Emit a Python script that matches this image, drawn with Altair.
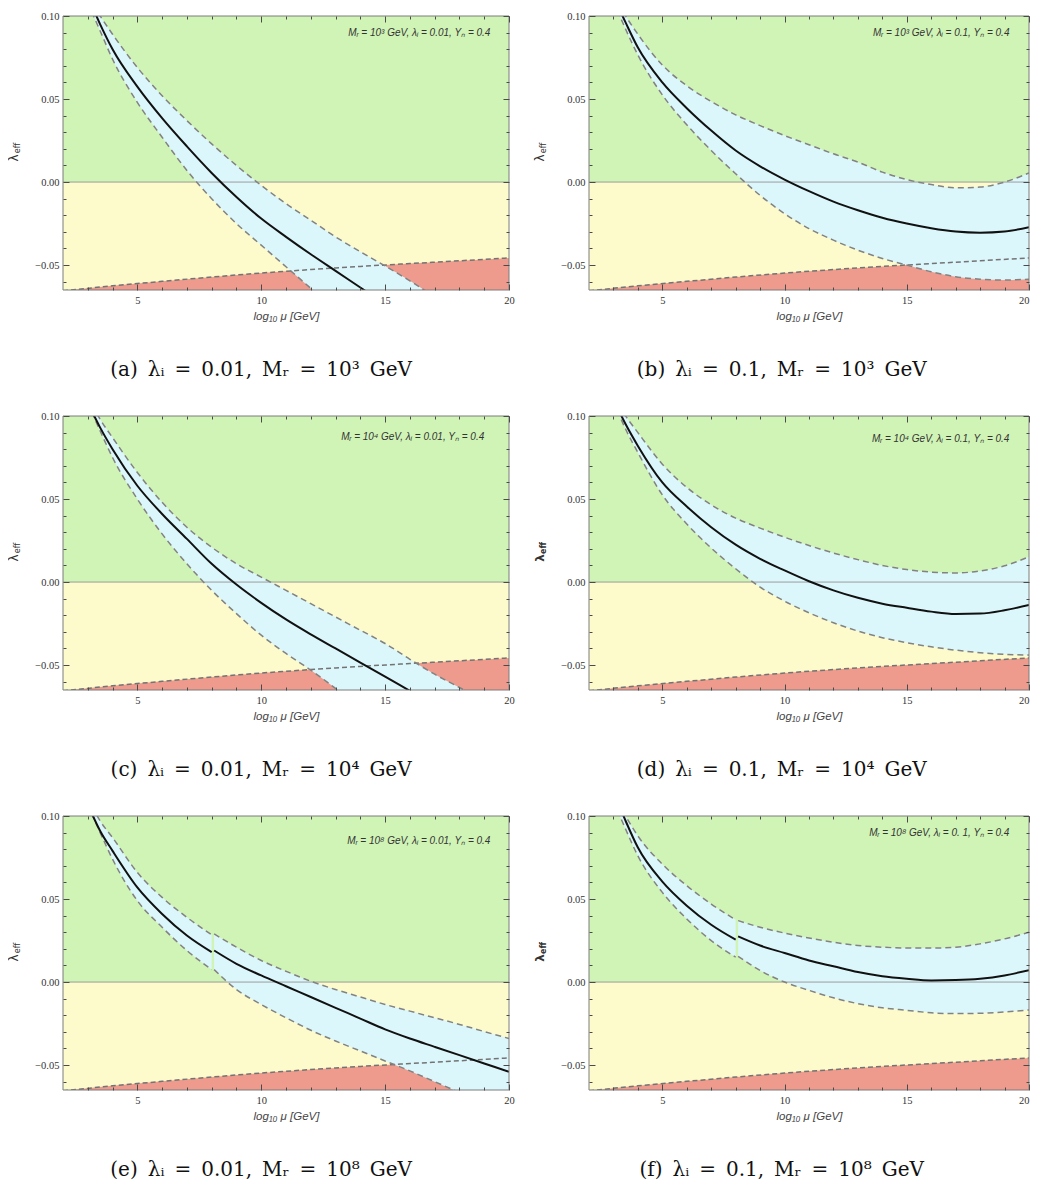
import altair as alt
import pandas as pd

# ---------------- data ----------------
X_DOMAIN = [2, 20]
Y_DOMAIN = [-0.065, 0.10]

STABLE_Y = [0.0, 0.10]      # green: absolutely stable
META_Y = [-0.065, 0.0]      # yellow: metastable

# instability boundary (red region below)
INSTAB_X = [2, 4, 6, 8, 10, 12, 14, 16, 18, 20]
INSTAB_Y = [-0.0655, -0.0625, -0.0598, -0.0572, -0.0548, -0.0527, -0.0508, -0.0491, -0.0474, -0.0457]

# x grid of the curves (continuous panels)
XB = [3.0, 3.5, 4, 5, 6, 7, 8, 9, 10, 11, 12, 13, 14, 15, 16, 17, 18, 19, 20]
SEG_B = [0] * 19
# x grid with the threshold break at log10(M_R) = 8
XBB = [3.0, 3.5, 4, 5, 6, 7, 8, 8.1, 9, 10, 11, 12, 13, 14, 15, 16, 17, 18, 19, 20]
SEG_BB = [0] * 7 + [1] * 13

# (a) lambda_i = 0.01, M_R = 1e3
A_MID = [0.112, 0.095, 0.080, 0.0575, 0.0385, 0.0215, 0.0055, -0.009, -0.022, -0.033, -0.0435, -0.0535, -0.0635, -0.0735, -0.0835, -0.0935, -0.1035, -0.1135, -0.1235]
A_HI = [0.112, 0.100, 0.089, 0.069, 0.052, 0.037, 0.023, 0.010, -0.002, -0.013, -0.023, -0.033, -0.042, -0.0505, -0.0595, -0.069, -0.078, -0.087, -0.096]
A_LO = [0.108, 0.091, 0.074, 0.048, 0.027, 0.007, -0.010, -0.025, -0.038, -0.051, -0.064, -0.077, -0.090, -0.103, -0.116, -0.129, -0.142, -0.155, -0.168]

# (b) lambda_i = 0.1, M_R = 1e3
B_MID = [0.112, 0.096, 0.081, 0.060, 0.0445, 0.031, 0.019, 0.0095, 0.0015, -0.0055, -0.0118, -0.017, -0.0215, -0.025, -0.0278, -0.0298, -0.0305, -0.0298, -0.0272]
B_HI = [0.113, 0.100, 0.089, 0.0705, 0.058, 0.0485, 0.0405, 0.034, 0.028, 0.0225, 0.017, 0.012, 0.006, 0.0015, -0.0015, -0.0035, -0.003, 0.0, 0.0055]
B_LO = [0.109, 0.092, 0.0765, 0.0525, 0.0345, 0.019, 0.005, -0.008, -0.019, -0.028, -0.035, -0.041, -0.046, -0.050, -0.054, -0.057, -0.0585, -0.059, -0.0585]

# (c) lambda_i = 0.01, M_R = 1e4
C_MID = [0.108, 0.093, 0.080, 0.058, 0.041, 0.026, 0.011, -0.0015, -0.0125, -0.0225, -0.0315, -0.040, -0.0485, -0.057, -0.0655, -0.074, -0.0825, -0.091, -0.0995]
C_HI = [0.112, 0.098, 0.087, 0.066, 0.048, 0.033, 0.021, 0.011, 0.003, -0.005, -0.013, -0.021, -0.029, -0.037, -0.0465, -0.0555, -0.0635, -0.072, -0.081]
C_LO = [0.108, 0.091, 0.075, 0.050, 0.029, 0.011, -0.005, -0.019, -0.032, -0.043, -0.053, -0.064, -0.075, -0.086, -0.097, -0.108, -0.119, -0.130, -0.141]

# (d) lambda_i = 0.1, M_R = 1e4
D_MID = [0.110, 0.095, 0.082, 0.060, 0.0455, 0.033, 0.0225, 0.014, 0.007, 0.0005, -0.005, -0.0095, -0.013, -0.0155, -0.0178, -0.0192, -0.019, -0.017, -0.0138]
D_HI = [0.112, 0.100, 0.090, 0.071, 0.057, 0.0465, 0.0385, 0.0325, 0.027, 0.022, 0.0175, 0.0135, 0.010, 0.0075, 0.006, 0.0055, 0.0067, 0.0098, 0.0152]
D_LO = [0.109, 0.092, 0.078, 0.0525, 0.035, 0.0205, 0.008, -0.003, -0.0115, -0.0185, -0.0245, -0.0295, -0.0335, -0.0365, -0.039, -0.041, -0.0425, -0.0435, -0.044]

# (e) lambda_i = 0.01, M_R = 1e8
E_MID = [0.107, 0.091, 0.079, 0.057, 0.041, 0.028, 0.018, 0.019, 0.011, 0.004, -0.0025, -0.009, -0.0155, -0.022, -0.0285, -0.034, -0.039, -0.044, -0.049, -0.054]
E_HI = [0.111, 0.097, 0.087, 0.066, 0.051, 0.039, 0.0285, 0.029, 0.021, 0.013, 0.0065, 0.0005, -0.0045, -0.009, -0.0135, -0.0175, -0.0215, -0.0255, -0.0298, -0.034]
E_LO = [0.107, 0.090, 0.074, 0.049, 0.033, 0.019, 0.0075, 0.0075, -0.0045, -0.0135, -0.0215, -0.029, -0.0355, -0.0415, -0.0475, -0.0535, -0.060, -0.0665, -0.073, -0.0795]

# (f) lambda_i = 0.1, M_R = 1e8
F_MID = [0.115, 0.097, 0.081, 0.0605, 0.046, 0.0345, 0.0255, 0.0275, 0.022, 0.0175, 0.013, 0.0095, 0.006, 0.0035, 0.002, 0.001, 0.0012, 0.002, 0.004, 0.0072]
F_HI = [0.114, 0.100, 0.088, 0.071, 0.058, 0.047, 0.0375, 0.037, 0.033, 0.0295, 0.0265, 0.024, 0.022, 0.021, 0.0205, 0.0205, 0.021, 0.023, 0.026, 0.030]
F_LO = [0.109, 0.092, 0.076, 0.054, 0.038, 0.025, 0.015, 0.0155, 0.007, 0.0, -0.005, -0.0095, -0.013, -0.0155, -0.017, -0.0185, -0.019, -0.0188, -0.018, -0.0168]

E2 = "\u2002"
CAPTIONS = [
    f"(a){E2}λᵢ{E2}={E2}0.01,{E2}Mᵣ{E2}={E2}10³{E2}GeV",
    f"(b){E2}λᵢ{E2}={E2}0.1,{E2}Mᵣ{E2}={E2}10³{E2}GeV",
    f"(c){E2}λᵢ{E2}={E2}0.01,{E2}Mᵣ{E2}={E2}10⁴{E2}GeV",
    f"(d){E2}λᵢ{E2}={E2}0.1,{E2}Mᵣ{E2}={E2}10⁴{E2}GeV",
    f"(e){E2}λᵢ{E2}={E2}0.01,{E2}Mᵣ{E2}={E2}10⁸{E2}GeV",
    f"(f){E2}λᵢ{E2}={E2}0.1,{E2}Mᵣ{E2}={E2}10⁸{E2}GeV",
]
NOTES = [
    "Mᵣ = 10³ GeV,  λᵢ = 0.01,  Yₙ = 0.4",
    "Mᵣ = 10³ GeV,  λᵢ = 0.1,  Yₙ = 0.4",
    "Mᵣ = 10⁴ GeV,  λᵢ = 0.01,  Yₙ = 0.4",
    "Mᵣ = 10⁴ GeV,  λᵢ = 0.1,  Yₙ = 0.4",
    "Mᵣ = 10⁸ GeV,  λᵢ = 0.01,  Yₙ = 0.4",
    "Mᵣ = 10⁸ GeV,  λᵢ = 0. 1,  Yₙ = 0.4",
]
NOTE_X = [19.25, 19.2, 19.0, 19.2, 19.25, 19.2]
NOTE_Y = [0.0895, 0.0895, 0.0875, 0.086, 0.085, 0.090]

X_MAJOR = [5, 10, 15, 20]
X_MINOR = [3, 4, 6, 7, 8, 9, 11, 12, 13, 14, 16, 17, 18, 19]
Y_MAJOR = [-0.05, 0.0, 0.05, 0.10]
Y_MINOR = [-0.06, -0.04, -0.03, -0.02, -0.01, 0.01, 0.02, 0.03, 0.04, 0.06, 0.07, 0.08, 0.09]

# ---------------- style ----------------
GREEN = "#d0f3b6"
YELLOW = "#fdfbcb"
RED = "#ee9b8d"
BLUE = "#dcf7fb"
DASH_COLOR = "#828282"
TICK_COLOR = "#4a4a4a"
CURVE = "monotone"


def xscale():
    return alt.Scale(domain=X_DOMAIN, nice=False, zero=False)


def yscale():
    return alt.Scale(domain=Y_DOMAIN, nice=False, zero=False)


def axis(orient, values, size, labels=False, fmt=None, title=None, flush=False):
    kw = dict(orient=orient, values=values, tickSize=size, offset=-size, labels=labels,
              domain=False, grid=False, ticks=True, tickColor=TICK_COLOR, tickWidth=1,
              zindex=2, title=title)
    if labels:
        kw.update(format=fmt, labelFont="Liberation Serif", labelFontSize=10.5,
                  labelColor="#333333", labelFlush=flush,
                  labelPadding=4 if orient == "left" else 5)
    if title:
        kw.update(titleFont="Liberation Sans", titleFontStyle="italic", titleFontSize=11.5,
                  titleFontWeight="normal", titleColor="#444444", titlePadding=5)
    return alt.Axis(**kw)


def panel(i, xs, seg, mid, hi, lo, w, h, bold=False, flush=False):
    band = pd.DataFrame({"x": xs, "seg": seg, "mid": mid, "hi": hi, "lo": lo})
    edges = pd.concat([
        pd.DataFrame({"x": xs, "v": hi, "key": [f"hi{s}" for s in seg]}),
        pd.DataFrame({"x": xs, "v": lo, "key": [f"lo{s}" for s in seg]}),
    ])
    stable = pd.DataFrame({"x0": [X_DOMAIN[0]], "x1": [X_DOMAIN[1]], "y0": [STABLE_Y[0]], "y1": [STABLE_Y[1]]})
    meta = pd.DataFrame({"x0": [X_DOMAIN[0]], "x1": [X_DOMAIN[1]], "y0": [META_Y[0]], "y1": [META_Y[1]]})
    inst = pd.DataFrame({"x": INSTAB_X, "y": INSTAB_Y, "floor": [Y_DOMAIN[0]] * len(INSTAB_X)})
    frame = pd.DataFrame({"x0": [X_DOMAIN[0]], "x1": [X_DOMAIN[1]], "y0": [Y_DOMAIN[0]], "y1": [Y_DOMAIN[1]]})

    g = alt.Chart(stable).mark_rect(color=GREEN).encode(
        x=alt.X("x0:Q", scale=xscale(),
                axis=axis("bottom", X_MAJOR, 6, True, "d", "log₁₀ μ  [GeV]", flush=flush)),
        x2="x1",
        y=alt.Y("y0:Q", scale=yscale(), axis=axis("left", Y_MAJOR, 6, True, ".2f")),
        y2="y1")
    yel = alt.Chart(meta).mark_rect(color=YELLOW).encode(
        x=alt.X("x0:Q", scale=xscale(), axis=axis("bottom", X_MINOR, 3)),
        x2="x1",
        y=alt.Y("y0:Q", scale=yscale(), axis=axis("left", Y_MINOR, 3)),
        y2="y1")
    red = alt.Chart(inst).mark_area(color=RED, clip=True, interpolate=CURVE).encode(
        x=alt.X("x:Q", scale=xscale(), axis=axis("top", X_MAJOR, 6)),
        y=alt.Y("y:Q", scale=yscale(), axis=axis("right", Y_MAJOR, 6)),
        y2="floor")
    blue = alt.Chart(band).mark_area(color=BLUE, clip=True, interpolate=CURVE).encode(
        x=alt.X("x:Q", scale=xscale(), axis=axis("top", X_MINOR, 3)),
        y=alt.Y("lo:Q", scale=yscale(), axis=axis("right", Y_MINOR, 3)),
        y2="hi",
        detail="seg:N")
    zero = alt.Chart(pd.DataFrame({"y": [0.0]})).mark_rule(color="#9c9c9c", strokeWidth=1).encode(
        y=alt.Y("y:Q", scale=yscale(), axis=None))
    inst_line = alt.Chart(inst).mark_line(color="#737373", strokeDash=[5, 3], strokeWidth=1.5,
                                          clip=True, interpolate=CURVE).encode(
        x=alt.X("x:Q", scale=xscale(), axis=None),
        y=alt.Y("y:Q", scale=yscale(), axis=None))
    edge_lines = alt.Chart(edges).mark_line(color=DASH_COLOR, strokeDash=[6, 4], strokeWidth=1.5,
                                            clip=True, interpolate=CURVE).encode(
        x=alt.X("x:Q", scale=xscale(), axis=None),
        y=alt.Y("v:Q", scale=yscale(), axis=None),
        detail="key:N")
    mid_line = alt.Chart(band).mark_line(color="#111111", strokeWidth=2, clip=True,
                                         interpolate=CURVE).encode(
        x=alt.X("x:Q", scale=xscale(), axis=None),
        y=alt.Y("mid:Q", scale=yscale(), axis=None),
        detail="seg:N")
    note = alt.Chart(pd.DataFrame({"x": [NOTE_X[i]], "y": [NOTE_Y[i]], "t": [NOTES[i]]})).mark_text(
        align="right", baseline="middle", font="Liberation Sans", fontStyle="italic",
        fontSize=10, color="#333333").encode(
        x=alt.X("x:Q", scale=xscale(), axis=None),
        y=alt.Y("y:Q", scale=yscale(), axis=None),
        text="t:N")
    fw = "bold" if bold else "normal"
    lam = alt.Chart(pd.DataFrame({"t": ["λ"]})).mark_text(
        angle=270, fontSize=12, font="DejaVu Sans", color="#333333", fontWeight=fw).encode(
        x=alt.value(-49), y=alt.value(h / 2 + 5), text="t:N")
    eff = alt.Chart(pd.DataFrame({"t": ["eff"]})).mark_text(
        angle=270, fontSize=8, font="DejaVu Sans", color="#333333", fontWeight=fw).encode(
        x=alt.value(-45.5), y=alt.value(h / 2 - 5), text="t:N")
    box = alt.Chart(frame).mark_rect(fillOpacity=0, stroke="#7d7d7d", strokeWidth=1).encode(
        x=alt.X("x0:Q", scale=xscale(), axis=None), x2="x1",
        y=alt.Y("y0:Q", scale=yscale(), axis=None), y2="y1")

    return alt.layer(g, yel, red, blue, zero, inst_line, edge_lines, mid_line, note, lam, eff, box).resolve_axis(
        x="independent", y="independent").properties(
        width=w, height=h,
        title=alt.TitleParams(text=CAPTIONS[i], orient="bottom", anchor="middle", frame="bounds",
                              font="DejaVu Serif", fontSize=20, fontWeight="normal", color="#111111",
                              offset=38))


WL, WR, H = 446, 440, 274
pa = panel(0, XB, SEG_B, A_MID, A_HI, A_LO, WL, H)
pb = panel(1, XB, SEG_B, B_MID, B_HI, B_LO, WR, H, flush=True)
pc = panel(2, XB, SEG_B, C_MID, C_HI, C_LO, WL, H)
pd_ = panel(3, XB, SEG_B, D_MID, D_HI, D_LO, WR, H, bold=True, flush=True)
pe = panel(4, XBB, SEG_BB, E_MID, E_HI, E_LO, WL, H)
pf = panel(5, XBB, SEG_BB, F_MID, F_HI, F_LO, WR, H, bold=True, flush=True)

chart = alt.vconcat(
    alt.hconcat(pa, pb, spacing=19),
    alt.hconcat(pc, pd_, spacing=19),
    alt.hconcat(pe, pf, spacing=19),
    spacing=31,
).properties(
    padding={"left": 0, "top": 3, "right": 0, "bottom": 0},
    background="white",
).configure_view(stroke=None)

chart.save("out.html", embed_options={"renderer": "svg", "actions": False})
